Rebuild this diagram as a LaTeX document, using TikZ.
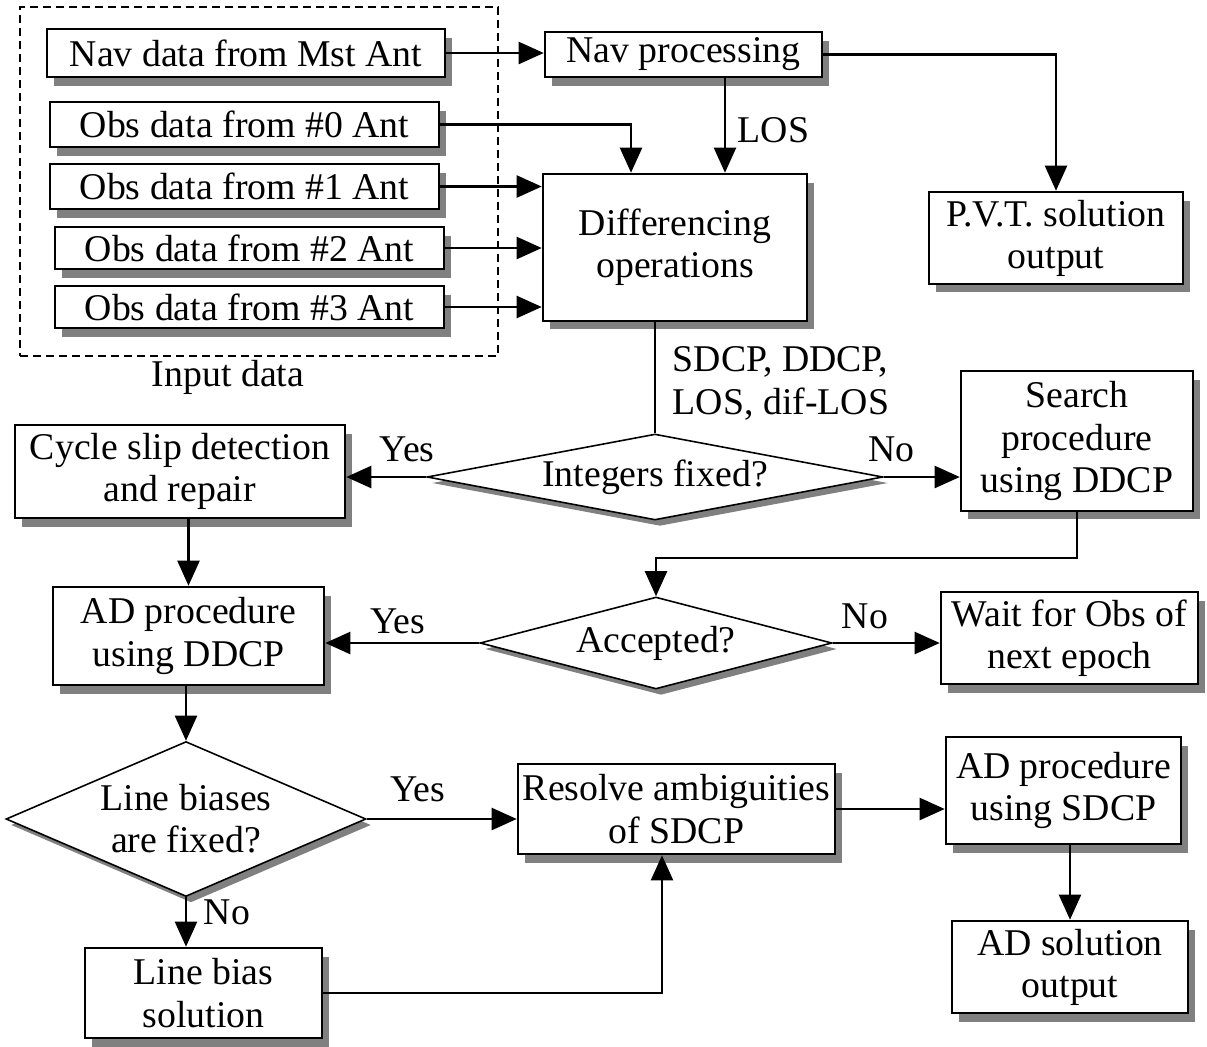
\documentclass[tikz,border=0pt]{standalone}
\usepackage{fontspec}
\setmainfont{Liberation Serif}
\usetikzlibrary{shapes.geometric, arrows.meta, shadows}

\begin{document}
\begin{tikzpicture}[
    x=0.02cm, y=-0.02cm,
    font=\fontsize{21.5}{24}\selectfont,
    box/.style={rectangle, draw, line width=1.5pt, fill=white, align=center, inner sep=1pt,
        drop shadow={shadow xshift=0.14cm, shadow yshift=-0.17cm, fill=black!50, opacity=1}},
    decision/.style={diamond, draw, line width=0.9pt, fill=white, align=center, inner sep=0pt,
        drop shadow={shadow xshift=0.1cm, shadow yshift=-0.12cm, fill=black!50, opacity=1}},
    arrow/.style={-{Triangle[length=0.5cm, width=0.44cm]}, line width=1.3pt},
    line/.style={line width=1.3pt},
    lbl/.style={inner sep=1pt}
]
\useasboundingbox (0,0) rectangle (1207,1046);

% input data
\node[draw, dashed, line width=1.1pt, dash pattern=on 0.16cm off 0.1cm, minimum width=9.56cm, minimum height=6.98cm] (inputbox) at (259,181.5) {};
\node (inputlbl) at (228,377) {Input data};

\node[box, minimum width=7.96cm, minimum height=0.96cm] (nav) at (246,53) {Nav data from Mst Ant};
\node[box, minimum width=7.78cm, minimum height=0.9cm] (obs0) at (244.5,124.5) {Obs data from \#0 Ant};
\node[box, minimum width=7.78cm, minimum height=0.9cm] (obs1) at (244.5,186.5) {Obs data from \#1 Ant};
\node[box, minimum width=7.78cm, minimum height=0.84cm] (obs2) at (249.5,248) {Obs data from \#2 Ant};
\node[box, minimum width=7.78cm, minimum height=0.84cm] (obs3) at (249.5,307) {Obs data from \#3 Ant};

% processing
\node[box, minimum width=5.54cm, minimum height=0.9cm] (navproc) at (683.5,54.5) {Nav processing};
\node[box, minimum width=5.28cm, minimum height=2.94cm] (diff) at (675,247.5) {Differencing\\operations};
\node[box, minimum width=5.08cm, minimum height=1.84cm] (pvt) at (1056,238) {P.V.T. solution\\output};

% decisions
\node[decision, aspect=5.3, minimum width=9.12cm, minimum height=1.72cm] (intq) at (655,477) {Integers fixed?};
\node[box, minimum width=6.6cm, minimum height=1.86cm] (cycle) at (180,471.5) {Cycle slip detection\\and repair};
\node[box, minimum width=4.64cm, minimum height=2.8cm] (search) at (1077,441) {Search\\procedure\\using DDCP};

\node[decision, aspect=3.83, minimum width=7.04cm, minimum height=1.84cm] (accq) at (656,643) {Accepted?};
\node[box, minimum width=5.42cm, minimum height=1.96cm] (adddcp) at (188.5,636) {AD procedure\\using DDCP};
\node[box, minimum width=5.14cm, minimum height=1.84cm] (wait) at (1069.5,638) {Wait for Obs of\\next epoch};

\node[decision, aspect=2.32, minimum width=7.2cm, minimum height=3.1cm] (biasq) at (186,819) {Line biases\\are fixed?};
\node[box, minimum width=6.34cm, minimum height=1.8cm] (resolve) at (676.5,809) {Resolve ambiguities\\of SDCP};
\node[box, minimum width=4.7cm, minimum height=2.14cm] (adsdcp) at (1063.5,790.5) {AD procedure\\using SDCP};
\node[box, minimum width=4.72cm, minimum height=1.84cm] (adsol) at (1070,967) {AD solution\\output};
\node[box, minimum width=4.74cm, minimum height=1.8cm] (biassol) at (203.5,993) {Line bias\\solution};

% connectors
\draw[arrow] (nav.east) -- (nav.east -| navproc.west);
\draw[line] (navproc.east) -| (pvt.north |- navproc.south);
\draw[arrow] (pvt.north |- navproc.south) -- (pvt.north);
\draw[arrow] ([xshift=1cm]diff.north |- navproc.south) -- node[lbl, right=0.2cm, pos=0.55] (los) {LOS} ([xshift=1cm]diff.north);
\draw[arrow] (obs0.east) -| ([xshift=-0.88cm]diff.north);
\draw[arrow] (obs1.east) -- (obs1.east -| diff.west);
\draw[arrow] (obs2.east) -- (obs2.east -| diff.west);
\draw[arrow] (obs3.east) -- (obs3.east -| diff.west);

\draw[line] (intq.north |- diff.south) -- node[lbl, right=0.3cm, pos=0.55, align=left] (obsset) {SDCP, DDCP,\\LOS, dif-LOS} (intq.north);
\draw[arrow] (intq.west) -- node[lbl, above=0.25cm, pos=0.24] (yes1) {Yes} (intq.west -| cycle.east);
\draw[arrow] (intq.east) -- node[lbl, above=0.25cm, pos=0.1] (no1) {No} (intq.east -| search.west);
\draw[arrow] (search.south) -- ++(0,46) -| (accq.north);

\draw[arrow] (adddcp.north |- cycle.south) -- (adddcp.north);
\draw[arrow] (accq.west) -- node[lbl, above=0.12cm, pos=0.53] (yes2) {Yes} (accq.west -| adddcp.east);
\draw[arrow] (accq.east) -- node[lbl, above=0.22cm, pos=0.3] (no2) {No} (accq.east -| wait.west);

\draw[arrow] (biasq.north |- adddcp.south) -- (biasq.north);
\draw[arrow] (biasq.east) -- node[lbl, above=0.28cm, pos=0.34] (yes3) {Yes} (biasq.east -| resolve.west);
\draw[arrow] (biasq.south) -- node[lbl, right=0.3cm, pos=0.3] (no3) {No} (biasq.south |- biassol.north);
\draw[arrow] (biassol.east) -| ([xshift=-0.29cm]resolve.south);
\draw[arrow] (resolve.east) -- (resolve.east -| adsdcp.west);
\draw[arrow] (adsol.north |- adsdcp.south) -- (adsol.north);

\end{tikzpicture}
\end{document}
